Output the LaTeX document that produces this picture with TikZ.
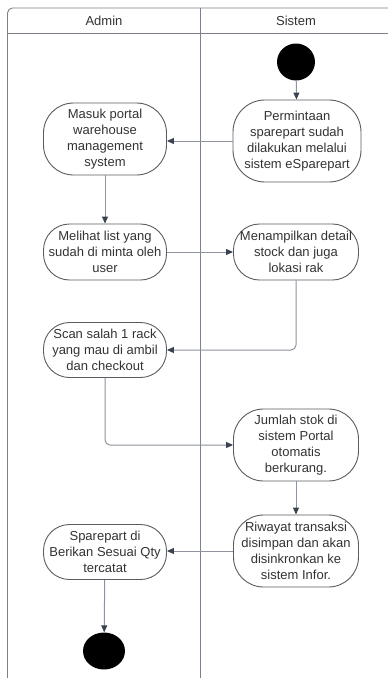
\documentclass[tikz,border=0pt]{standalone}
\usepackage{fontspec}
\setmainfont{Liberation Sans}
\usetikzlibrary{arrows.meta}
\definecolor{lanecol}{HTML}{7E8189}
\definecolor{wirecol}{HTML}{8E939E}
\definecolor{tipcol}{HTML}{3A4150}
\definecolor{boxcol}{HTML}{5A5C62}
\definecolor{txtcol}{HTML}{333333}
\tikzset{
  actbox/.style={draw=boxcol, line width=0.9pt, fill=white, rounded corners=26pt,
    align=center, text=txtcol, inner sep=1pt,
    font=\fontsize{13}{16}\selectfont},
  lane/.style={draw=lanecol, line width=0.9pt},
  flow/.style={draw=wirecol, line width=1pt,
    -{Triangle[length=7pt,width=6pt,color=tipcol]}},
  dot/.style={ellipse, fill=black, inner sep=0pt},
}
\usetikzlibrary{shapes.geometric}
\begin{document}
\begin{tikzpicture}[x=1pt,y=-1pt]
\useasboundingbox (0,0) rectangle (388,678);
\fill[white] (0,0) rectangle (388,678);
% swimlane frame
\draw[lane, rounded corners=5pt] (389,8) -- (7.5,8) -- (7.5,679);
\draw[lane] (7.5,33) -- (389,33);
\draw[lane] (200,8) -- (200,679);
\node[font=\fontsize{13}{16}\selectfont, text=txtcol] (hAdmin) at (104,21) {Admin};
\node[font=\fontsize{13}{16}\selectfont, text=txtcol] (hSistem) at (296,21) {Sistem};
% start and end
\node[dot, minimum width=38pt, minimum height=37pt] (start) at (296,62) {};
\node[dot, minimum width=42pt, minimum height=37pt] (end) at (104,651) {};
% activities
\node[actbox, minimum width=128pt, minimum height=82pt, rounded corners=32pt] (r1) at (297,141)
  {Permintaan\\sparepart sudah\\dilakukan melalui\\sistem eSparepart};
\node[actbox, minimum width=123pt, minimum height=72pt, rounded corners=30pt] (a1) at (105,139)
  {Masuk portal\\warehouse\\management\\system};
\node[actbox, minimum width=123pt, minimum height=56pt] (a2) at (105,252)
  {Melihat list yang\\sudah di minta oleh\\user};
\node[actbox, minimum width=125pt, minimum height=56pt] (r2) at (296,252)
  {Menampilkan detail\\stock dan juga\\lokasi rak};
\node[actbox, minimum width=123pt, minimum height=55pt] (a3) at (105,350)
  {Scan salah 1 rack\\yang mau di ambil\\dan checkout};
\node[actbox, minimum width=125pt, minimum height=72pt, rounded corners=30pt] (r3) at (296,445)
  {Jumlah stok di\\sistem Portal\\otomatis\\berkurang.};
\node[actbox, minimum width=125pt, minimum height=72pt, rounded corners=30pt] (r4) at (296,551)
  {Riwayat transaksi\\disimpan dan akan\\disinkronkan ke\\sistem Infor.};
\node[actbox, minimum width=123pt, minimum height=55pt] (a4) at (105,552)
  {Sparepart di\\Berikan Sesuai Qty\\tercatat};
% control flow
\draw[flow] (start) -- (r1);
\draw[flow] (r1.west) -- (r1.west -| a1.east);
\draw[flow] (a1) -- (a2);
\draw[flow] (a2) -- (r2);
\draw[flow, rounded corners=5pt] (r2.south) |- (a3.east);
\draw[flow, rounded corners=5pt] (a3.south) |- (r3.west);
\draw[flow] (r3) -- (r4);
\draw[flow] (r4.west) -- (r4.west -| a4.east);
\draw[flow] (a4) -- (end);
\end{tikzpicture}
\end{document}
